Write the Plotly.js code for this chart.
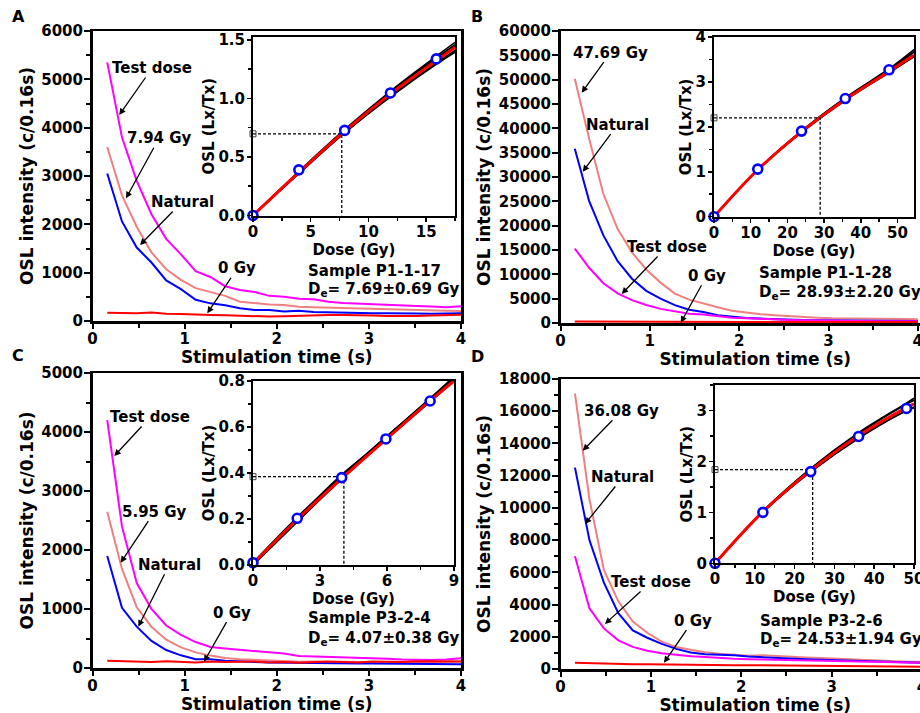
<!DOCTYPE html>
<html><head><meta charset="utf-8">
<script src="https://cdn.plot.ly/plotly-3.0.1.min.js"></script>
<style>html,body{margin:0;padding:0;overflow:hidden;background:#fff}#chart{width:950px;height:740px}</style>
</head><body><div id="chart"></div>
<script>
// ---------- data ----------
const time = [0.16,0.32,0.48,0.64,0.80,0.96,1.12,1.28,1.44,1.60,1.76,1.92,2.08,2.24,2.40,2.56,2.72,2.88,3.04,3.20,3.36,3.52,3.68,3.84,4.00];

// Panel A (Sample P1-1-17)
const aTest    = [5350,3800,2900,2210,1700,1380,1030,910,720,640,600,520,500,460,450,400,370,355,345,330,320,311,300,285,305];
const aRegen   = [3600,2600,1950,1420,1070,850,680,600,520,400,370,340,330,295,285,275,265,258,250,240,235,228,220,210,205];
const aNatural = [3050,2060,1520,1210,840,660,440,365,325,262,230,228,195,210,185,178,165,160,158,160,150,155,150,160,158];
const aZero    = [172,165,160,178,150,145,130,125,118,110,105,92,100,110,120,124,122,124,112,104,100,104,115,124,128];

// Panel B (Sample P1-1-28)
const bRegen   = [50200,37900,26500,19300,14500,11000,8300,6050,4800,3950,3250,2500,2100,1800,1600,1400,1200,1100,980,920,850,820,810,800,780];
const bNatural = [35800,25100,18000,12700,9100,6600,5000,3680,2720,2250,1620,1300,1020,900,760,660,610,580,550,500,430,410,410,400,400];
const bTest    = [15300,11350,8170,6100,4700,3700,2900,2380,1900,1750,1380,1090,1000,830,720,620,540,480,420,390,360,350,350,345,340];
const bZero    = [320,300,290,280,270,265,260,250,245,240,235,230,225,220,220,215,210,210,205,205,200,200,200,195,195];

// Panel C (Sample P3-2-4)
const cTest    = [4200,2400,1440,1000,720,560,440,355,330,310,295,275,245,205,198,194,185,170,160,155,145,140,137,145,165];
const cRegen   = [2650,1680,1030,700,480,350,265,210,170,147,140,130,112,105,110,100,105,98,100,95,100,95,100,105,110];
const cNatural = [1900,1020,700,460,305,215,150,147,125,107,100,95,90,90,85,82,80,78,75,72,70,68,66,64,63];
const cZero    = [125,120,110,100,115,105,95,110,100,105,110,95,100,90,105,110,100,95,110,105,100,115,110,105,110];

// Panel D (Sample P3-2-6)
const dRegen   = [17100,10550,6150,4200,2950,2250,1700,1370,1190,1040,950,900,820,860,800,770,720,680,640,590,545,500,455,455,450];
const dNatural = [12500,8000,5360,3460,2400,1940,1560,1250,1030,920,880,850,770,720,690,665,610,570,545,510,495,470,440,410,390];
const dTest    = [7000,3770,2520,1780,1370,1130,980,870,790,740,680,640,610,590,560,520,505,490,475,460,455,440,420,400,390];
const dZero    = [390,360,340,320,300,290,275,265,255,250,245,240,240,235,230,225,220,210,200,190,180,170,160,150,145];

// Dose-response insets
const doseA = [0,3.97,7.94,11.91,15.88];   const lxtxA = [0,0.39,0.727,1.047,1.338];
const fitDoseA = [0,4,8,12,16,17.5];       const fitA = [0,0.37,0.725,1.045,1.33,1.435];
const mcA = [[0,0.38,0.74,1.07,1.37,1.48],[0,0.375,0.73,1.06,1.355,1.46],[0,0.365,0.715,1.03,1.31,1.41],[0,0.36,0.71,1.02,1.30,1.395],[0,0.372,0.728,1.05,1.345,1.45]];
const deA = 7.69, lxDeA = 0.698;

const doseB = [0,11.92,23.85,35.77,47.69]; const lxtxB = [0,1.06,1.905,2.63,3.27];
const fitDoseB = [0,12,24,36,48,54.5];     const fitB = [0,1.05,1.9,2.62,3.25,3.6];
const mcB = [[0,1.05,1.91,2.65,3.29,3.68],[0,1.055,1.9,2.64,3.28,3.66],[0,1.04,1.88,2.6,3.22,3.56],[0,1.05,1.92,2.66,3.31,3.72]];
const deB = 28.93, lxDeB = 2.2;

const doseC = [0,1.98,3.97,5.95,7.93];     const lxtxC = [0.01,0.203,0.38,0.548,0.713];
const fitDoseC = [0,2,4,6,8,9];            const fitC = [0.005,0.2,0.378,0.55,0.72,0.8];
const mcC = [[0,0.19,0.39,0.56,0.73,0.82],[0.01,0.205,0.395,0.55,0.715,0.8],[0,0.19,0.375,0.55,0.72,0.81],[0.01,0.21,0.39,0.56,0.73,0.815]];
const deC = 4.07, lxDeC = 0.384;

const doseD = [0,12.03,24.05,36.08,48.1];  const lxtxD = [0,1.0,1.8,2.49,3.04];
const fitDoseD = [0,12,24,36,48,50];       const fitD = [0,1.01,1.82,2.5,3.05,3.13];
const mcD = [[0,1.02,1.86,2.56,3.14,3.24],[0,1.0,1.8,2.46,3.0,3.07],[0,1.02,1.85,2.54,3.12,3.2],[0,1.0,1.79,2.45,2.99,3.05]];
const deD = 24.53, lxDeD = 1.84;

// ---------- layout helpers ----------
const W = 950, H = 740;
const px = v => v / W;
const py = v => 1 - v / H;
const FONT = 'DejaVu Sans';
const C_TEST = '#FF00FF', C_REGEN = '#F08080', C_NAT = '#0000FF', C_ZERO = '#FF0000';

function mainX(l, r, range, anchor) {
  return {domain:[px(l), px(r)], range:range, anchor:anchor, showline:true, linewidth:2.5, linecolor:'#000',
    mirror:true, ticks:'outside', ticklen:5, tickwidth:2, tickcolor:'#000', tick0:0, dtick:1, ticklabelstandoff:-3,
    minor:{dtick:0.5, ticklen:4, tickwidth:2, tickcolor:'#000', ticks:'outside'},
    showgrid:false, zeroline:false, tickfont:{family:FONT, size:15, weight:'bold', color:'#000'},
    title:{text:'Stimulation time (s)', font:{family:FONT, size:17, weight:'bold', color:'#000'}, standoff:0}};
}
function mainY(t, b, range, dtick, minor, anchor) {
  return {domain:[py(b), py(t)], range:range, anchor:anchor, showline:true, linewidth:2.5, linecolor:'#000',
    mirror:true, ticks:'outside', ticklen:6, tickwidth:2, tickcolor:'#000', tick0:0, dtick:dtick, tickformat:'d',
    ticklabelstandoff:-2,
    minor: minor ? {dtick:minor, ticklen:4, tickwidth:2, tickcolor:'#000', ticks:'outside'} : undefined,
    showgrid:false, zeroline:false, tickfont:{family:FONT, size:15, weight:'bold', color:'#000'},
    title:{text:'OSL intensity (c/0.16s)', font:{family:FONT, size:17, weight:'bold', color:'#000'}, standoff:4}};
}
function insetX(l, r, range, dtick, minor, anchor) {
  return {domain:[px(l), px(r)], range:range, anchor:anchor, showline:true, linewidth:2, linecolor:'#000',
    mirror:true, ticks:'outside', ticklen:4, tickwidth:1.5, tickcolor:'#000', tick0:0, dtick:dtick, ticklabelstandoff:-3,
    minor:{dtick:minor, ticklen:3, tickwidth:1.5, tickcolor:'#000', ticks:'outside'},
    showgrid:false, zeroline:false, tickfont:{family:FONT, size:15, weight:'bold', color:'#000'},
    title:{text:'Dose (Gy)', font:{family:FONT, size:15, weight:'bold', color:'#000'}, standoff:0}};
}
function insetY(t, b, range, dtick, minor, fmt, anchor) {
  return {domain:[py(b), py(t)], range:range, anchor:anchor, showline:true, linewidth:2, linecolor:'#000',
    mirror:true, ticks:'outside', ticklen:4, tickwidth:1.5, tickcolor:'#000', tick0:0, dtick:dtick, tickformat:fmt,
    ticklabelstandoff:-1,
    minor:{dtick:minor, ticklen:3, tickwidth:1.5, tickcolor:'#000', ticks:'outside'},
    showgrid:false, zeroline:false, tickfont:{family:FONT, size:15, weight:'bold', color:'#000'},
    title:{text:'OSL (Lx/Tx)', font:{family:FONT, size:15, weight:'bold', color:'#000'}, standoff:0}};
}

const traces = [];
function decay(xa, ya, series) {
  series.forEach(([y, c]) => traces.push({x:time, y:y, xaxis:xa, yaxis:ya, mode:'lines',
    line:{color:c, width:2}, showlegend:false, hoverinfo:'skip'}));
}
function growth(xa, ya, fitDose, fit, mc, dose, lxtx, de, lxDe) {
  mc.forEach(m => traces.push({x:fitDose, y:m, xaxis:xa, yaxis:ya, mode:'lines',
    line:{color:'#000', width:1.6, shape:'spline'}, showlegend:false, hoverinfo:'skip'}));
  traces.push({x:fitDose, y:fit, xaxis:xa, yaxis:ya, mode:'lines', line:{color:'#FF0000', width:3, shape:'spline'},
    showlegend:false, hoverinfo:'skip'});
  traces.push({x:[0, de, de], y:[lxDe, lxDe, 0], xaxis:xa, yaxis:ya, mode:'lines',
    line:{color:'#000', width:1.3, dash:'3px,2px'}, showlegend:false, hoverinfo:'skip'});
  traces.push({x:[0], y:[lxDe], xaxis:xa, yaxis:ya, mode:'markers', cliponaxis:false,
    marker:{symbol:'square-open', size:6, color:'#444', line:{width:1}}, showlegend:false, hoverinfo:'skip'});
  traces.push({x:dose, y:lxtx, xaxis:xa, yaxis:ya, mode:'markers', cliponaxis:false,
    marker:{symbol:'circle', size:9, color:'#fff', line:{color:'#0000FF', width:2.6}}, showlegend:false, hoverinfo:'skip'});
}

decay('x', 'y', [[aTest, C_TEST], [aRegen, C_REGEN], [aNatural, C_NAT], [aZero, C_ZERO]]);
growth('x2', 'y2', fitDoseA, fitA, mcA, doseA, lxtxA, deA, lxDeA);
decay('x3', 'y3', [[bRegen, C_REGEN], [bNatural, C_NAT], [bTest, C_TEST], [bZero, C_ZERO]]);
growth('x4', 'y4', fitDoseB, fitB, mcB, doseB, lxtxB, deB, lxDeB);
decay('x5', 'y5', [[cTest, C_TEST], [cRegen, C_REGEN], [cNatural, C_NAT], [cZero, C_ZERO]]);
growth('x6', 'y6', fitDoseC, fitC, mcC, doseC, lxtxC, deC, lxDeC);
decay('x7', 'y7', [[dRegen, C_REGEN], [dNatural, C_NAT], [dTest, C_TEST], [dZero, C_ZERO]]);
growth('x8', 'y8', fitDoseD, fitD, mcD, doseD, lxtxD, deD, lxDeD);

// ---------- annotations ----------
const annFont = {family:FONT, size:15, weight:'bold', color:'#000'};
function arrowNote(xr, yr, x, y, text, ax, ay) {
  return {xref:xr, yref:yr, x:x, y:y, text:text, ax:ax, ay:ay, showarrow:true, arrowhead:2,
    arrowsize:1, arrowwidth:1.3, arrowcolor:'#000', font:annFont, standoff:0, startstandoff:0, borderpad:0};
}
function paperNote(x, y, text, size, anchor) {
  return {xref:'paper', yref:'paper', x:px(x), y:py(y), text:text, showarrow:false,
    xanchor:anchor || 'left', yanchor:'middle', font:{family:FONT, size:size || 15, weight:'bold', color:'#000'}};
}
const annotations = [
  arrowNote('x', 'y', 0.29, 4262, 'Test dose', 33, -47),
  arrowNote('x', 'y', 0.364, 2539, '7.94 Gy', 33, -60),
  arrowNote('x', 'y', 0.516, 1572, 'Natural', 42, -43),
  arrowNote('x', 'y', 1.246, 159, '0 Gy', 30, -45),
  paperNote(306, 270.7, 'Sample P1-1-17'),
  paperNote(306, 289.5, 'D<sub>e</sub>= 7.69±0.69 Gy'),

  arrowNote('x3', 'y3', 0.237, 47320, '47.69 Gy', 29, -40),
  arrowNote('x3', 'y3', 0.249, 31090, 'Natural', 35, -47),
  arrowNote('x3', 'y3', 0.685, 5960, 'Test dose', 45, -47),
  arrowNote('x3', 'y3', 1.346, 60, '0 Gy', 26, -47),
  paperNote(757, 273.3, 'Sample P1-1-28'),
  paperNote(757, 292.3, 'D<sub>e</sub>= 28.93±2.20 Gy'),

  arrowNote('x5', 'y5', 0.237, 3593, 'Test dose', 36, -39),
  arrowNote('x5', 'y5', 0.306, 1785, '5.95 Gy', 34, -51),
  arrowNote('x5', 'y5', 0.497, 700, 'Natural', 31, -62),
  arrowNote('x5', 'y5', 1.21, 107, '0 Gy', 28, -49),
  paperNote(306, 618.3, 'Sample P3-2-4'),
  paperNote(306, 638.3, 'D<sub>e</sub>= 4.07±0.38 Gy'),

  arrowNote('x7', 'y7', 0.246, 13550, '36.08 Gy', 39, -40),
  arrowNote('x7', 'y7', 0.271, 9000, 'Natural', 38, -47),
  arrowNote('x7', 'y7', 0.492, 2793, 'Test dose', 46, -42),
  arrowNote('x7', 'y7', 1.145, 391, '0 Gy', 29, -42),
  paperNote(757.7, 620.7, 'Sample P3-2-6'),
  paperNote(757.7, 639.3, 'D<sub>e</sub>= 24.53±1.94 Gy'),

  paperNote(18, 17, 'A', 16, 'center'),
  paperNote(477, 16, 'B', 16, 'center'),
  paperNote(18, 355, 'C', 16, 'center'),
  paperNote(477, 356, 'D', 16, 'center')
];

const layout = {
  width: W, height: H, margin:{l:0, r:0, t:0, b:0}, showlegend:false,
  paper_bgcolor:'#fff', plot_bgcolor:'#fff',
  font:{family:FONT, size:15, weight:'bold', color:'#000'},
  xaxis:  mainX(92.5, 461, [0, 4], 'y'),
  yaxis:  mainY(31, 321, [0, 6000], 1000, 500, 'x'),
  xaxis2: insetX(253, 455, [0, 17.5], 5, 2.5, 'y2'),
  yaxis2: insetY(37, 215.5, [0, 1.525], 0.5, 0.25, '.1f', 'x2'),
  xaxis3: mainX(560.5, 950, [0, 4.36], 'y3'),
  yaxis3: mainY(31, 323, [0, 60000], 5000, null, 'x3'),
  xaxis4: insetX(714, 914, [0, 54.5], 10, 5, 'y4'),
  yaxis4: insetY(37, 216.7, [0, 4], 1, 0.5, 'd', 'x4'),
  xaxis5: mainX(92.5, 461, [0, 4], 'y5'),
  yaxis5: mainY(373, 668, [0, 5000], 1000, 500, 'x5'),
  xaxis6: insetX(253, 454, [0, 9], 3, 1.5, 'y6'),
  yaxis6: insetY(381, 565, [0, 0.8], 0.2, 0.1, '.1f', 'x6'),
  xaxis7: mainX(560.5, 950, [0, 4.31], 'y7'),
  yaxis7: mainY(379, 669, [0, 18000], 2000, 1000, 'x7'),
  xaxis8: insetX(715, 914, [0, 50], 10, 5, 'y8'),
  yaxis8: insetY(385, 563.3, [0, 3.5], 1, 0.5, 'd', 'x8'),
  annotations: annotations
};

Plotly.newPlot('chart', traces, layout, {staticPlot:true, displayModeBar:false});
</script>
</body></html>
